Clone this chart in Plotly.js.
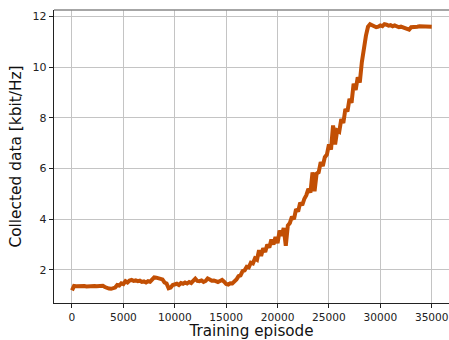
<!DOCTYPE html>
<html>
<head>
<meta charset="utf-8">
<script src="https://cdn.plot.ly/plotly-3.0.1.min.js"></script>
<style>html,body{margin:0;padding:0;background:#fff;}#chart{width:449px;height:340px;}</style>
</head>
<body>
<div id="chart"></div>
<script>
// Collected data [kbit/Hz], sampled every 200 training episodes (0 .. 35000)
const episodeStep = 200;
const collected = [
  1.19, 1.36, 1.35, 1.36, 1.34, 1.35, 1.36, 1.34, 1.35, 1.36,
  1.35, 1.36, 1.35, 1.37, 1.36, 1.37, 1.32, 1.27, 1.26, 1.25,
  1.26, 1.30, 1.40, 1.38, 1.47, 1.44, 1.55, 1.50, 1.58, 1.60,
  1.56, 1.58, 1.55, 1.57, 1.52, 1.54, 1.50, 1.55, 1.53, 1.63,
  1.70, 1.69, 1.66, 1.63, 1.62, 1.50, 1.46, 1.27, 1.30, 1.40,
  1.42, 1.45, 1.40, 1.48, 1.45, 1.50, 1.46, 1.52, 1.48, 1.60,
  1.65, 1.56, 1.55, 1.58, 1.52, 1.56, 1.66, 1.62, 1.57, 1.58,
  1.55, 1.52, 1.56, 1.60, 1.53, 1.44, 1.42, 1.47, 1.46, 1.52,
  1.62, 1.75, 1.78, 1.95, 1.98, 2.12, 2.10, 2.28, 2.25, 2.45,
  2.40, 2.78, 2.55, 2.85, 2.70, 3.00, 2.88, 3.20, 3.00, 3.30,
  3.05, 3.55, 3.35, 3.65, 2.95, 3.75, 3.85, 4.10, 4.00, 4.40,
  4.30, 4.65, 4.55, 4.80, 4.95, 5.20, 5.05, 5.85, 5.10, 5.80,
  5.85, 6.25, 6.10, 6.45, 6.55, 6.95, 6.75, 7.70, 6.95, 7.50,
  7.45, 7.95, 7.80, 8.35, 8.25, 8.75, 8.60, 9.35, 9.10, 9.60,
  9.40, 10.20, 10.85, 11.25, 11.60, 11.70, 11.66, 11.62, 11.58, 11.60,
  11.65, 11.62, 11.70, 11.68, 11.64, 11.66, 11.62, 11.65, 11.60, 11.58,
  11.60, 11.56, 11.55, 11.52, 11.48, 11.58, 11.60, 11.62, 11.60, 11.62,
  11.61, 11.60, 11.62, 11.60, 11.61, 11.60
];
const episodes = collected.map((_, i) => i * episodeStep);
const xTicks = [0, 5000, 10000, 15000, 20000, 25000, 30000, 35000];
const yTicks = [2, 4, 6, 8, 10, 12];

const font = 'DejaVu Sans, sans-serif';
const trace = {
  x: episodes, y: collected, type: 'scatter', mode: 'lines',
  line: {color: '#c24f04', width: 4}, hoverinfo: 'skip'
};
const layout = {
  width: 449, height: 340,
  margin: {l: 54, r: 0, t: 10, b: 37},
  paper_bgcolor: '#fff', plot_bgcolor: '#fff',
  showlegend: false,
  font: {family: font, color: '#222'},
  xaxis: {
    range: [-1750, 36680], tickvals: xTicks, ticktext: xTicks.map(String),
    showgrid: true, gridcolor: '#c4c4c4', gridwidth: 1,
    zeroline: false, showline: true, linecolor: '#222', linewidth: 1.2,
    ticks: 'outside', ticklen: 4, tickwidth: 1, tickcolor: '#222',
    ticklabeloverflow: 'allow',
    tickfont: {size: 10.6, family: font, color: '#222'},
    title: {text: 'Training episode', font: {size: 15.2, family: font, color: '#111'}, standoff: 5}
  },
  yaxis: {
    range: [0.69, 12.26], tickvals: yTicks, ticktext: yTicks.map(String),
    showgrid: true, gridcolor: '#c4c4c4', gridwidth: 1,
    zeroline: false, showline: true, linecolor: '#222', linewidth: 1.2,
    ticks: 'outside', ticklen: 4, tickwidth: 1, tickcolor: '#222',
    tickfont: {size: 11, family: font, color: '#222'},
    title: {text: 'Collected data [kbit/Hz]', font: {size: 15.4, family: font, color: '#111'}, standoff: 7}
  },
  shapes: [{type: 'line', xref: 'paper', yref: 'paper', x0: 0, x1: 1, y0: 1, y1: 1,
            line: {color: '#888', width: 1.5}}]
};
Plotly.newPlot('chart', [trace], layout, {displayModeBar: false, staticPlot: true});
</script>
</body>
</html>
